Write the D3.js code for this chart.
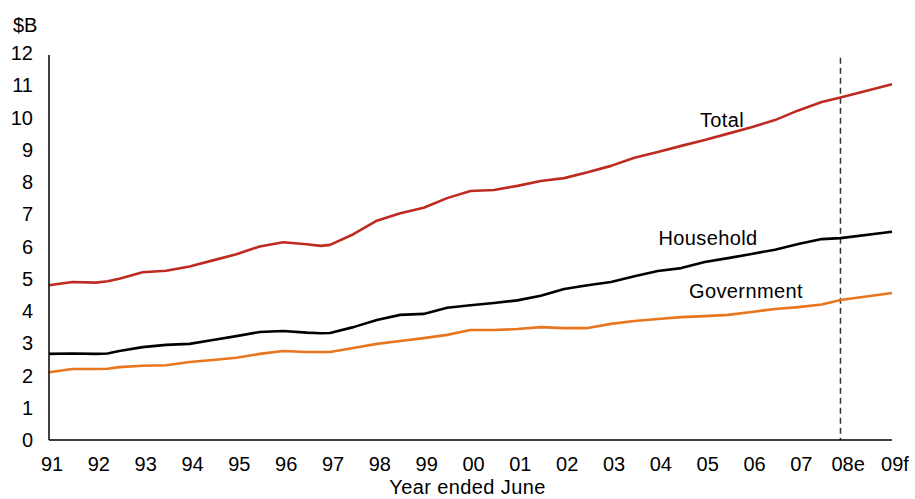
<!DOCTYPE html>
<html>
<head>
<meta charset="utf-8">
<script src="https://cdn.jsdelivr.net/npm/d3@7"></script>
<style>
  body { margin: 0; background: #fff; }
  text { font-family: Arial, "Liberation Sans", sans-serif; fill: #000; }
</style>
</head>
<body>
<div class="bigvis"></div>
<script>
// half-yearly readings, year ended June; last actual near 07.9, then estimate/forecast
var years = [1991, 1991.5, 1992, 1992.25, 1992.5, 1993, 1993.5, 1994, 1994.5, 1995, 1995.5, 1996, 1996.5, 1996.8, 1997, 1997.5, 1998, 1998.5, 1999, 1999.5, 2000, 2000.5, 2001, 2001.5, 2002, 2002.5, 2003, 2003.5, 2004, 2004.5, 2005, 2005.5, 2006, 2006.5, 2007, 2007.5, 2007.9, 2009]
var total =      [4.80, 4.90, 4.88, 4.92, 5.00, 5.20, 5.25, 5.38, 5.57, 5.76, 6.00, 6.13, 6.07, 6.02, 6.05, 6.38, 6.80, 7.03, 7.20, 7.50, 7.72, 7.75, 7.88, 8.03, 8.12, 8.30, 8.50, 8.75, 8.93, 9.12, 9.30, 9.50, 9.70, 9.92, 10.22, 10.48, 10.62, 11.03]
var household =  [2.67, 2.68, 2.67, 2.68, 2.76, 2.88, 2.95, 2.98, 3.10, 3.22, 3.35, 3.38, 3.33, 3.31, 3.32, 3.50, 3.72, 3.88, 3.91, 4.10, 4.18, 4.25, 4.33, 4.47, 4.68, 4.80, 4.90, 5.08, 5.24, 5.33, 5.52, 5.64, 5.77, 5.90, 6.08, 6.23, 6.26, 6.46]
var government = [2.10, 2.20, 2.20, 2.21, 2.26, 2.30, 2.32, 2.42, 2.48, 2.55, 2.67, 2.76, 2.73, 2.73, 2.73, 2.85, 2.98, 3.07, 3.16, 3.26, 3.41, 3.41, 3.44, 3.50, 3.47, 3.47, 3.60, 3.69, 3.75, 3.81, 3.84, 3.88, 3.97, 4.06, 4.12, 4.20, 4.34, 4.56]

var tickYears = [1991, 1992, 1993, 1994, 1995, 1996, 1997, 1998, 1999, 2000, 2001, 2002, 2003, 2004, 2005, 2006, 2007, 2008, 2009]
var tickLabels = ["91", "92", "93", "94", "95", "96", "97", "98", "99", "00", "01", "02", "03", "04", "05", "06", "07", "08e", "09f"]
var yTicks = [0, 1, 2, 3, 4, 5, 6, 7, 8, 9, 10, 11, 12]
var forecastStart = 2007.9

var series = [
  {name: "Total", values: total, color: "#bf2a20", lx: 722, ly: 127},
  {name: "Household", values: household, color: "#000000", lx: 708, ly: 245},
  {name: "Government", values: government, color: "#e8761f", lx: 746, ly: 298}
]

var margin = {top: 53, right: 23, left: 49, bottom: 59}
var width = 915 - margin.left - margin.right
var height = 499 - margin.top - margin.bottom

var svg = d3.select(".bigvis").append("svg")
        .attr("width", 915)
        .attr("height", 499)
    .append("g")
        .attr("transform", "translate(" + margin.left + "," + margin.top + ")")

var x = d3.scaleLinear().domain([1991, 2009]).range([0, width])
var y = d3.scaleLinear().domain([0, 12]).range([height, 0])

// y tick labels, no tick marks
svg.append("g")
    .selectAll("text")
    .data(yTicks)
  .enter().append("text")
    .attr("x", -16)
    .attr("y", function(d){ return y(d) })
    .attr("dy", "0.35em")
    .attr("text-anchor", "end")
    .style("font-size", "20px")
    .text(function(d){ return d })

svg.append("text")
    .attr("x", -36)
    .attr("y", -21)
    .style("font-size", "20px")
    .text("$B")

// x tick labels
svg.append("g")
    .selectAll("text")
    .data(tickYears)
  .enter().append("text")
    .attr("x", function(d){ return x(d) + 3 })
    .attr("y", height + 31)
    .attr("text-anchor", "middle")
    .style("font-size", "20px")
    .text(function(d, i){ return tickLabels[i] })

svg.append("text")
    .attr("x", x(2000) - 3)
    .attr("y", height + 54)
    .attr("text-anchor", "middle")
    .style("font-size", "20px")
    .style("letter-spacing", "0.4px")
    .text("Year ended June")

// forecast divider
svg.append("line")
    .attr("x1", x(forecastStart))
    .attr("x2", x(forecastStart))
    .attr("y1", y(11.85))
    .attr("y2", height)
    .attr("stroke", "#333")
    .attr("stroke-width", 1.5)
    .attr("stroke-dasharray", "6,4")

var line = d3.line()
    .x(function(d, i){ return x(years[i]) })
    .y(function(d){ return y(d) })

svg.selectAll(".series")
    .data(series)
  .enter().append("path")
    .attr("class", "series")
    .attr("d", function(s){ return line(s.values) })
    .attr("fill", "none")
    .attr("stroke", function(s){ return s.color })
    .attr("stroke-width", 2.6)
    .attr("stroke-linejoin", "round")

svg.selectAll(".label")
    .data(series)
  .enter().append("text")
    .attr("class", "label")
    .attr("x", function(s){ return s.lx - margin.left })
    .attr("y", function(s){ return s.ly - margin.top })
    .attr("text-anchor", "middle")
    .style("font-size", "20px")
    .style("letter-spacing", "0.4px")
    .text(function(s){ return s.name })

// axes lines
svg.append("line")
    .attr("x1", 0).attr("x2", 0)
    .attr("y1", y(12) + 2).attr("y2", height)
    .attr("stroke", "#000").attr("stroke-width", 1.5)

svg.append("line")
    .attr("x1", 0).attr("x2", width)
    .attr("y1", height).attr("y2", height)
    .attr("stroke", "#000").attr("stroke-width", 1.5)
</script>
</body>
</html>
